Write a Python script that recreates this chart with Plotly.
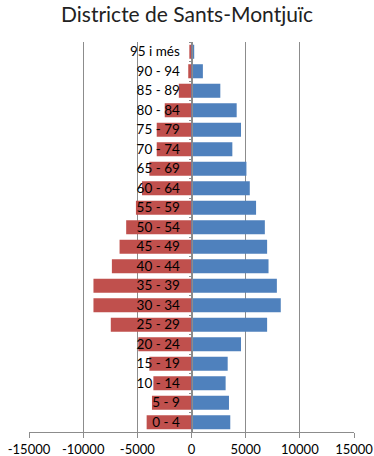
import plotly.graph_objects as go

# Age groups, youngest first
age_groups = ["0 - 4", "5 - 9", "10 - 14", "15 - 19", "20 - 24", "25 - 29", "30 - 34",
              "35 - 39", "40 - 44", "45 - 49", "50 - 54", "55 - 59", "60 - 64", "65 - 69",
              "70 - 74", "75 - 79", "80 - 84", "85 - 89", "90 - 94", "95 i més"]
# Left side (negative values) and right side populations
left_values = [-4140, -3650, -3520, -3890, -4910, -7450, -9050, -9050, -7350, -6640,
               -6030, -5130, -4570, -3890, -3210, -3210, -2470, -1170, -300, -200]
right_values = [3580, 3460, 3150, 3340, 4570, 6980, 8240, 7880, 7110, 6980,
                6770, 5960, 5380, 5070, 3770, 4570, 4170, 2660, 1050, 250]

x_ticks = [-15000, -10000, -5000, 0, 5000, 10000, 15000]

fig = go.Figure()
fig.add_trace(go.Bar(y=age_groups, x=left_values, orientation="h",
                     marker=dict(color="#C0504D", line=dict(width=0)), width=0.72))
fig.add_trace(go.Bar(y=age_groups, x=right_values, orientation="h",
                     marker=dict(color="#4F81BD", line=dict(width=0)), width=0.72))

fig.update_layout(
    width=374, height=456,
    margin=dict(l=29, r=20, t=42, b=24),
    barmode="overlay",
    showlegend=False,
    plot_bgcolor="white", paper_bgcolor="white",
    font=dict(family="Lato", size=13, color="black"),
    title=dict(text="Districte de Sants-Montjuïc", x=0.5, xanchor="center",
               y=0.985, yanchor="top",
               font=dict(family="Lato", size=21, color="#222222")),
    xaxis=dict(range=[-15000, 15000], tickvals=x_ticks, ticktext=[str(v) for v in x_ticks],
               showgrid=True, gridcolor="#8C8C8C", gridwidth=1, zeroline=False,
               showline=True, linecolor="#8C8C8C", ticks="outside", ticklen=5,
               tickcolor="#8C8C8C", tickfont=dict(size=13), automargin=False),
    yaxis=dict(anchor="free", position=0.5, showgrid=False, zeroline=False,
               showline=True, linecolor="#8C8C8C", ticks="outside", ticklen=3,
               tickcolor="#8C8C8C", tickson="boundaries", tickfont=dict(size=13.5),
               ticklabelstandoff=9, automargin=False),
)

fig.write_html("out.html")
